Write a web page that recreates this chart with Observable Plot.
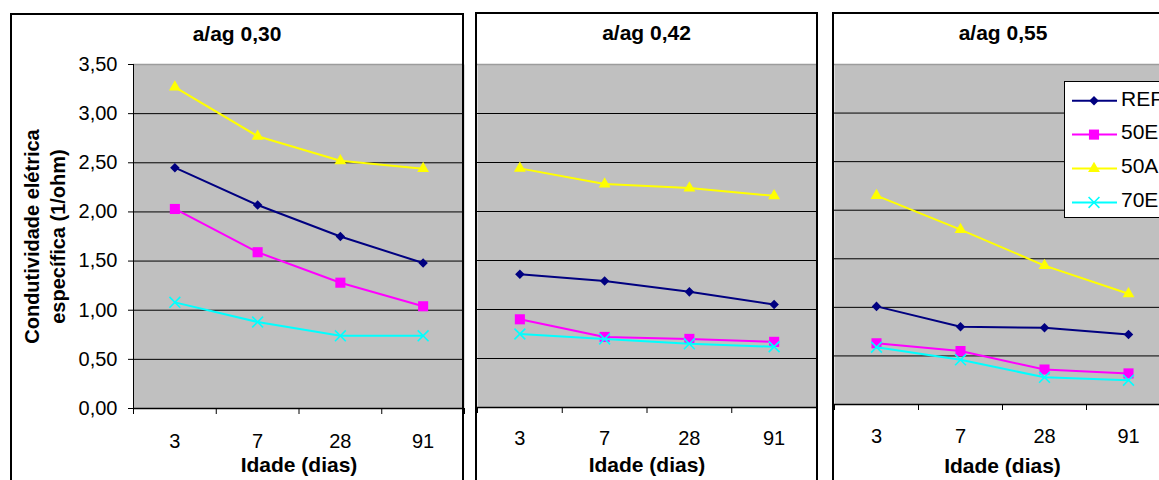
<!DOCTYPE html>
<html><head><meta charset="utf-8">
<script src="https://cdn.jsdelivr.net/npm/d3@7"></script>
<script src="https://cdn.jsdelivr.net/npm/@observablehq/plot@0.6"></script>
<style>
body{margin:0;background:#fff;font-family:"Liberation Sans",Arial,sans-serif;}
#wrap{position:relative;width:1159px;height:480px;overflow:hidden;background:#fff;}
.panel{position:absolute;box-sizing:border-box;border:2px solid #000;pointer-events:none;z-index:5;}
.ttl{position:absolute;font-weight:bold;font-size:21px;line-height:21px;text-align:center;color:#000;z-index:6;}
.chart{position:absolute;top:0;}
#legend{position:absolute;z-index:7;}
</style></head><body><div id="wrap"></div>
<script>
// ---- data ----
const ages = ["3", "7", "28", "91"];
const seriesNames = ["REF", "50E", "50A", "70E"];
const panelTitles = ["a/ag 0,30", "a/ag 0,42", "a/ag 0,55"];
const xLabel = "Idade (dias)";
const yLabel = "Condutividade elétrica\nespecífica (1/ohm)";
const yTicks = [0, 0.5, 1, 1.5, 2, 2.5, 3, 3.5];

const p030_REF = [2.45, 2.07, 1.75, 1.48];
const p030_50E = [2.03, 1.59, 1.28, 1.04];
const p030_50A = [3.27, 2.77, 2.52, 2.44];
const p030_70E = [1.08, 0.88, 0.74, 0.74];

const p042_REF = [1.36, 1.29, 1.18, 1.05];
const p042_50E = [0.90, 0.72, 0.70, 0.67];
const p042_50A = [2.44, 2.28, 2.24, 2.16];
const p042_70E = [0.75, 0.70, 0.65, 0.62];

const p055_REF = [1.01, 0.80, 0.79, 0.72];
const p055_50E = [0.63, 0.55, 0.36, 0.32];
const p055_50A = [2.15, 1.80, 1.43, 1.14];
const p055_70E = [0.59, 0.46, 0.28, 0.25];

// ---- styles ----
const colors = {REF: "#000080", "50E": "#ff00ff", "50A": "#ffff00", "70E": "#00ffff"};
const symbols = {REF: "diamond2", "50E": "square", "50A": "triangle", "70E": "times"};
const radii = {REF: 4.3, "50E": 5.7, "50A": 4.4, "70E": 5.0};
const fmt = d => d.toFixed(2).replace(".", ",");

const wrap = document.getElementById("wrap");

function seriesMarks(values) {
  const marks = [];
  for (const s of seriesNames) {
    const rows = values[s].map((v, i) => ({pos: i + 0.5, v}));
    marks.push(Plot.line(rows, {x: "pos", y: "v", stroke: colors[s], strokeWidth: 2}));
    if (symbols[s] === "times") {
      marks.push(Plot.dot(rows, {x: "pos", y: "v", symbol: symbols[s], r: radii[s], stroke: colors[s], strokeWidth: 1.6, fill: "none"}));
    } else {
      marks.push(Plot.dot(rows, {x: "pos", y: "v", symbol: symbols[s], r: radii[s], fill: colors[s], stroke: "none"}));
    }
  }
  return marks;
}

function makePanel(cfg) {
  const marks = [
    Plot.frame({fill: "#c0c0c0"}),
    Plot.ruleY(yTicks.filter(d => d > 0 && d < 3.5), {stroke: "#000", strokeWidth: 1}),
    Plot.ruleY([3.5], {stroke: "#9c9c9c", strokeWidth: 1.5}),
    Plot.axisX(d3.range(ages.length + 1), {tickSize: 6, tickFormat: () => "", label: null}),
    Plot.axisX(ages.map((a, i) => i + 0.5), {tickSize: 0, tickPadding: cfg.tickPad, tickFormat: d => ages[Math.round(d - 0.5)], label: null}),
    Plot.text([xLabel], {frameAnchor: "bottom", lineAnchor: "top", dy: cfg.labelDy, fontWeight: "bold", fontSize: 21}),
    ...seriesMarks(cfg.values),
    Plot.ruleY([0], {stroke: "#000", strokeWidth: 1.5})
  ];
  if (cfg.yAxis) {
    marks.push(Plot.ruleX([0], {stroke: "#000", strokeWidth: 1}));
    marks.push(Plot.axisY(yTicks, {tickSize: 5, tickPadding: 11, tickFormat: fmt, label: null}));
    marks.push(Plot.text([yLabel], {frameAnchor: "left", rotate: -90, dx: -90, lineHeight: 1.3, lineAnchor: "middle", textAnchor: "middle", fontWeight: "bold", fontSize: 20}));
  }
  const chart = Plot.plot({
    width: cfg.width, height: 480,
    marginLeft: cfg.mLeft, marginRight: cfg.mRight, marginTop: 64, marginBottom: cfg.mBottom,
    x: {domain: [0, ages.length]},
    y: cfg.yAxis ? {domain: [0, 3.5]} : {domain: [0, 3.5], axis: null},
    style: {background: "transparent", fontFamily: "'Liberation Sans', Arial, sans-serif", fontSize: "20px", color: "#000", overflow: "visible"},
    marks
  });
  chart.classList.add("chart");
  chart.style.left = cfg.left + "px";
  wrap.appendChild(chart);

  const border = document.createElement("div");
  border.className = "panel";
  Object.assign(border.style, {left: cfg.bLeft + "px", top: cfg.bTop + "px", width: cfg.bWidth + "px", height: "520px"});
  wrap.appendChild(border);

  const t = document.createElement("div");
  t.className = "ttl";
  t.textContent = cfg.title;
  Object.assign(t.style, {left: cfg.bLeft + "px", width: cfg.bWidth + "px", top: cfg.tTop + "px"});
  wrap.appendChild(t);
}

makePanel({values: {REF: p030_REF, "50E": p030_50E, "50A": p030_50A, "70E": p030_70E},
  left: 0, width: 466, mLeft: 133, mRight: 2, mBottom: 72, tickPad: 25, labelDy: 49, yAxis: true,
  bLeft: 10, bTop: 13, bWidth: 454, title: panelTitles[0], tTop: 23});
makePanel({values: {REF: p042_REF, "50E": p042_50E, "50A": p042_50A, "70E": p042_70E},
  left: 475, width: 343, mLeft: 2, mRight: 2, mBottom: 73, tickPad: 23, labelDy: 50, yAxis: false,
  bLeft: 475, bTop: 12, bWidth: 343, title: panelTitles[1], tTop: 22});
makePanel({values: {REF: p055_REF, "50E": p055_50E, "50A": p055_50A, "70E": p055_70E},
  left: 832, width: 340, mLeft: 2, mRight: 2, mBottom: 76, tickPad: 24, labelDy: 54, yAxis: false,
  bLeft: 832, bTop: 12, bWidth: 342, title: panelTitles[2], tTop: 22});

// ---- legend ----
const lg = d3.create("svg").attr("id", "legend").attr("width", 120).attr("height", 138)
  .style("left", "1064px").style("top", "81px");
lg.append("rect").attr("x", 0.5).attr("y", 0.5).attr("width", 130).attr("height", 136)
  .attr("fill", "#fff").attr("stroke", "#000");
const symMap = {REF: d3.symbolDiamond2, "50E": d3.symbolSquare, "50A": d3.symbolTriangle, "70E": d3.symbolTimes};
seriesNames.forEach((s, i) => {
  const y = 19.7 + 33.9 * i;
  const g = lg.append("g");
  g.append("line").attr("x1", 8).attr("x2", 53).attr("y1", y).attr("y2", y).attr("stroke", colors[s]).attr("stroke-width", 2);
  const p = g.append("path").attr("transform", `translate(30,${y})`)
    .attr("d", d3.symbol(symMap[s], Math.PI * radii[s] * radii[s])());
  if (s === "70E") p.attr("fill", "none").attr("stroke", colors[s]).attr("stroke-width", 1.6);
  else p.attr("fill", colors[s]);
  g.append("text").attr("x", 57).attr("y", y + 4.8).attr("font-size", 21)
    .attr("font-family", "'Liberation Sans', Arial, sans-serif").attr("fill", "#000").text(s);
});
wrap.appendChild(lg.node());
</script></body></html>
